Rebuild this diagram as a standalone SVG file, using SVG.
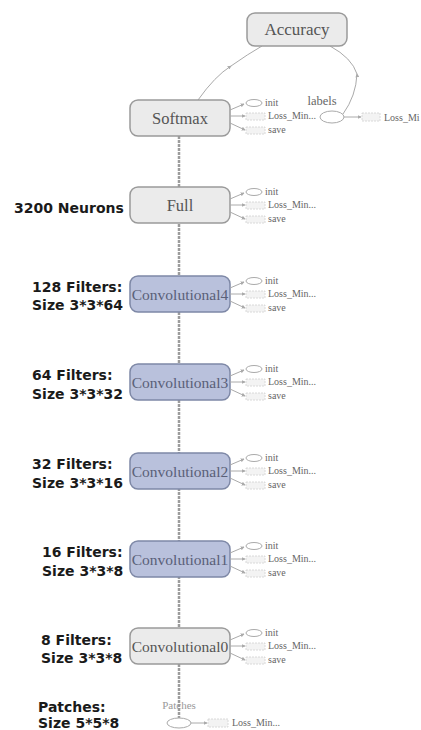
<svg xmlns="http://www.w3.org/2000/svg" width="421" height="730" viewBox="0 0 421 730">
<style>
.node{fill:#ebebeb;stroke:#9a9a9a;stroke-width:1.5}
.conv{fill:#b9c1dc;stroke:#7e88a6;stroke-width:1.5}
.nt{font-family:"Liberation Serif",serif;font-size:16.5px;fill:#555;text-anchor:middle}
.ct{font-family:"Liberation Serif",serif;font-size:15.5px;fill:#5a6078;text-anchor:middle}
.lab{font-family:"DejaVu Sans",sans-serif;font-weight:bold;font-size:14px;fill:#1a1a1a}
.sm{font-family:"Liberation Serif",serif;font-size:10px;fill:#666}
.edge{fill:none;stroke:#aaa;stroke-width:1}
.main{fill:none;stroke:#9c9c9c;stroke-width:2.5;stroke-dasharray:3 1}
.box{fill:#f3f3f3;stroke:#d0d0d0;stroke-width:0.8;stroke-dasharray:2 1}
.ell{fill:#fff;stroke:#aaa;stroke-width:1}
</style>
<defs>
<marker id="ah" viewBox="0 0 6 6" refX="5" refY="3" markerWidth="4" markerHeight="4" orient="auto">
<path d="M0,0 L6,3 L0,6 z" fill="#aaa"/>
</marker>
<g id="side">
<path class="edge" d="M0,12 L14,6" marker-end="url(#ah)"/>
<ellipse class="ell" cx="24" cy="5" rx="8" ry="3.5"/>
<text class="sm" x="35" y="8">init</text>
<path class="edge" d="M0,18 L15,18" marker-end="url(#ah)"/>
<rect class="box" x="16" y="15" width="19" height="7"/>
<text class="sm" x="38" y="21">Loss_Min...</text>
<path class="edge" d="M0,25 L15,32" marker-end="url(#ah)"/>
<rect class="box" x="16" y="29" width="19" height="7"/>
<text class="sm" x="38" y="35">save</text>
</g>
</defs>
<rect width="421" height="730" fill="#fff"/>
<g id="connectors">
<path class="main" d="M179,136 L179,718"/>
<path class="edge" d="M198,100 Q215,76 231,66 Q248,54 262,46" marker-mid="url(#ah)"/>
<path class="edge" d="M343,114 Q356,96 357,74 Q352,58 330,46" marker-mid="url(#ah)"/>
<path class="edge" d="M344,117 L361,117" marker-end="url(#ah)"/>
<path class="edge" d="M191,723 L207,723" marker-end="url(#ah)"/>
</g>
<g id="accuracy">
<rect class="node" x="247" y="13" width="100" height="33" rx="8"/>
<text class="nt" x="297" y="35" style="font-size:17px">Accuracy</text>
</g>
<g id="labels">
<ellipse class="ell" cx="332" cy="117" rx="12" ry="6"/>
<text class="sm" x="322" y="105" text-anchor="middle" style="font-size:12.5px">labels</text>
<rect class="box" x="362" y="113" width="18" height="8"/>
<text class="sm" x="384" y="121">Loss_Mi</text>
</g>
<g id="softmax">
<rect class="node" x="130" y="100" width="100" height="36" rx="8"/>
<text class="nt" x="180" y="124">Softmax</text>
<use href="#side" x="230" y="98"/>
</g>
<g id="full">
<rect class="node" x="130" y="187" width="100" height="36" rx="8"/>
<text class="nt" x="180" y="211">Full</text>
<use href="#side" x="230" y="187"/>
<text class="lab" x="14" y="213">3200 Neurons</text>
</g>
<g id="conv4">
<rect class="conv" x="130" y="276" width="100" height="36" rx="8"/>
<text class="ct" x="180" y="300">Convolutional4</text>
<use href="#side" x="230" y="276"/>
<text class="lab" x="32" y="292">128 Filters:</text>
<text class="lab" x="32" y="310">Size 3*3*64</text>
</g>
<g id="conv3">
<rect class="conv" x="130" y="364" width="100" height="36" rx="8"/>
<text class="ct" x="180" y="388">Convolutional3</text>
<use href="#side" x="230" y="364"/>
<text class="lab" x="32" y="380">64 Filters:</text>
<text class="lab" x="32" y="399">Size 3*3*32</text>
</g>
<g id="conv2">
<rect class="conv" x="130" y="453" width="100" height="36" rx="8"/>
<text class="ct" x="180" y="477">Convolutional2</text>
<use href="#side" x="230" y="453"/>
<text class="lab" x="32" y="469">32 Filters:</text>
<text class="lab" x="32" y="488">Size 3*3*16</text>
</g>
<g id="conv1">
<rect class="conv" x="130" y="541" width="100" height="36" rx="8"/>
<text class="ct" x="180" y="565">Convolutional1</text>
<use href="#side" x="230" y="541"/>
<text class="lab" x="42" y="557">16 Filters:</text>
<text class="lab" x="42" y="576">Size 3*3*8</text>
</g>
<g id="conv0">
<rect class="node" x="130" y="628" width="100" height="36" rx="8"/>
<text class="nt" x="180" y="652" style="font-size:15.5px">Convolutional0</text>
<use href="#side" x="230" y="628"/>
<text class="lab" x="41" y="645">8 Filters:</text>
<text class="lab" x="41" y="663">Size 3*3*8</text>
</g>
<g id="patches">
<text class="sm" x="179" y="709" text-anchor="middle" style="font-size:11px;fill:#999">Patches</text>
<ellipse class="ell" cx="179" cy="723" rx="12" ry="5"/>
<rect class="box" x="208" y="719" width="20" height="8"/>
<text class="sm" x="232" y="726">Loss_Min...</text>
<text class="lab" x="38" y="712">Patches:</text>
<text class="lab" x="38" y="728">Size 5*5*8</text>
</g>
</svg>
